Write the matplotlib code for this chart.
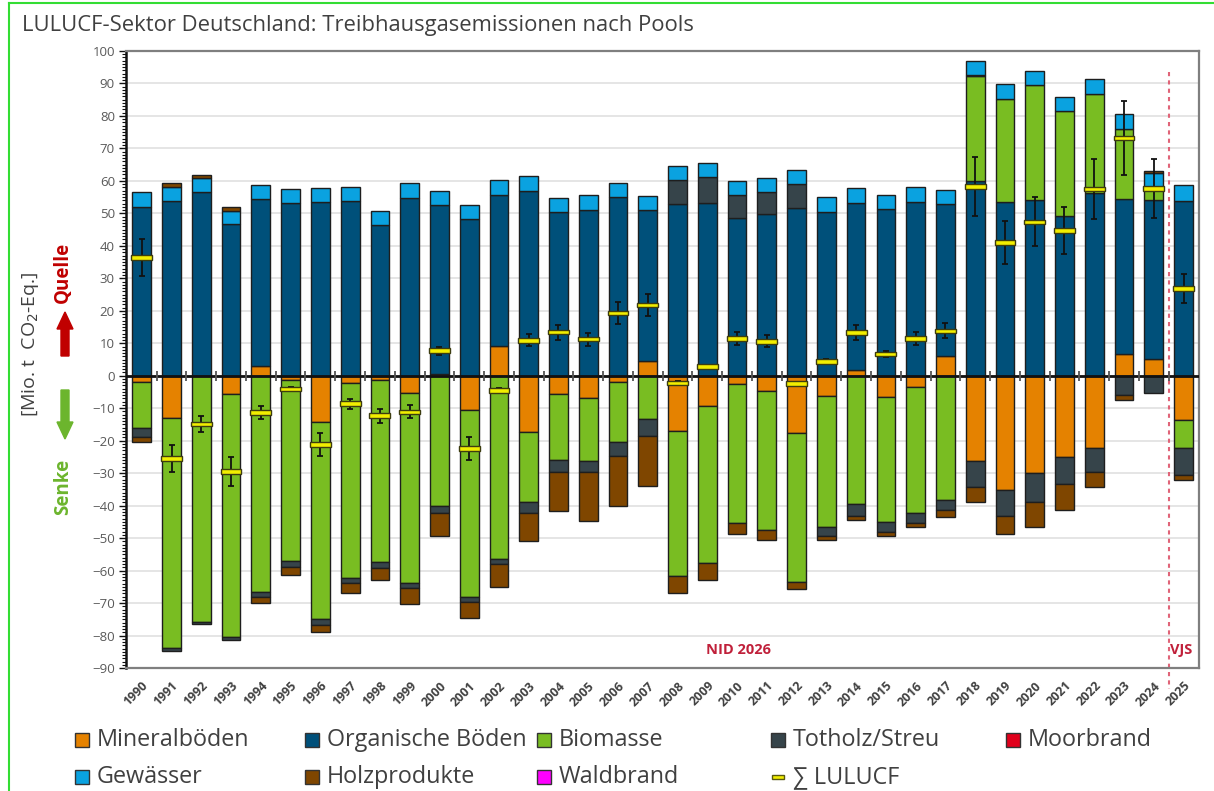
import numpy as np
import matplotlib
matplotlib.use('Agg')
import matplotlib.pyplot as plt
from matplotlib.patches import Rectangle, FancyArrow
from matplotlib.lines import Line2D
from matplotlib.ticker import MultipleLocator

plt.rcParams['font.family'] = ['Open Sans', 'DejaVu Sans']

years = [str(y) for y in range(1990, 2026)]

mineral = [-1.8, -13.1, 0.0, -5.6, 3.1, -1.3, -14.4, -2.2, -1.3, -5.2,
           0.5, -10.4, 9.2, -17.2, -5.6, -7.0, -1.8, 4.4, -16.9, -9.3,
           -2.4, -4.7, -17.5, -6.3, 1.8, -6.5, -3.6, 6.1, -26.3, -35.2,
           -29.8, -25.1, -22.1, 6.7, 5.2, -13.6]
organisch = [52.0, 53.9, 56.6, 46.7, 51.3, 53.1, 53.4, 53.9, 46.4, 54.6,
             52.1, 48.2, 46.6, 57.0, 50.3, 51.0, 54.9, 46.5, 52.8, 53.3,
             48.5, 49.7, 51.5, 50.5, 51.5, 51.3, 53.4, 46.8, 60.0, 53.6,
             54.1, 49.3, 56.4, 47.6, 48.9, 53.8]
biomasse = [-14.4, -70.8, -75.7, -74.9, -66.5, -55.9, -60.5, -60.2, -56.2, -58.5,
            -40.0, -57.6, -56.4, -21.8, -20.4, -19.3, -18.7, -13.4, -44.9, -48.4,
            -43.0, -42.8, -45.9, -40.2, -39.5, -38.4, -38.8, -38.3, 32.2, 31.5,
            35.3, 32.2, 30.5, 21.8, 4.1, -8.7]
totholz = [-2.8, -1.0, -0.8, -0.8, -1.5, -1.8, -1.8, -1.5, -1.8, -1.6,
           -2.2, -1.7, -1.5, -3.2, -3.5, -3.4, -4.2, -5.2, 7.4, 8.0,
           7.1, 6.8, 7.5, -3.0, -3.6, -3.1, -3.0, -3.0, -8.1, -7.9,
           -9.0, -8.2, -7.6, -5.9, -5.2, -8.3]
moorbrand = [0.0] * 28 + [0.5] + [0.0] * 7
gewaesser = [4.5, 4.3, 4.2, 4.1, 4.3, 4.3, 4.4, 4.3, 4.4, 4.6,
             4.3, 4.4, 4.4, 4.5, 4.5, 4.6, 4.3, 4.5, 4.4, 4.3,
             4.4, 4.5, 4.5, 4.6, 4.4, 4.5, 4.6, 4.3, 4.2, 4.6,
             4.5, 4.4, 4.4, 4.4, 4.1, 4.9]
holzprodukte = [-1.3, 1.2, 1.0, 1.2, -2.1, -2.5, -2.3, -3.1, -3.7, -5.1,
                -7.1, -5.0, -7.2, -8.7, -12.1, -14.9, -15.4, -15.3, -5.2, -5.2,
                -3.4, -3.1, -2.3, -1.1, -1.3, -1.2, -1.1, -2.3, -4.5, -5.6,
                -7.9, -8.0, -4.5, -1.6, 0.7, -1.5]
waldbrand = [0.0] * 36
lulucf = [36.4, -25.5, -14.9, -29.5, -11.3, -4.1, -21.1, -8.6, -12.3, -11.1,
          7.7, -22.4, -4.6, 10.9, 13.4, 11.3, 19.3, 21.8, -2.2, 2.9,
          11.4, 10.6, -2.4, 4.4, 13.3, 6.7, 11.4, 13.8, 58.2, 41.1,
          47.4, 44.8, 57.5, 73.2, 57.7, 26.9]
lulucf_err = [5.8, 4.1, 2.4, 4.6, 2.0, 0.5, 3.5, 1.5, 2.2, 2.0,
              1.3, 3.6, 0.8, 1.8, 2.3, 2.0, 3.3, 3.5, 0.5, 0.5,
              2.0, 1.9, 0.5, 0.7, 2.2, 0.9, 2.0, 2.3, 9.1, 6.6,
              7.6, 7.2, 9.2, 11.4, 9.0, 4.4]

series_names = ["Mineralböden", "Organische Böden", "Biomasse", "Totholz/Streu",
                "Moorbrand", "Gewässer", "Holzprodukte", "Waldbrand"]
series_values = [mineral, organisch, biomasse, totholz, moorbrand, gewaesser,
                 holzprodukte, waldbrand]
series_colors = ['#E58200', '#00507A', '#79BD22', '#36444A', '#E0001B',
                 '#0AA2E0', '#7F4600', '#FF00FF']
lulucf_color = '#F2EE00'

W, H = 1214, 791
def fx(px):
    return px / W
def fy(py):
    return 1 - py / H

fig = plt.figure(figsize=(W / 100, H / 100), dpi=100)
ax = fig.add_axes([fx(126), fy(668), (1199 - 126) / W, (668 - 51) / H])

n = len(years)
x = np.arange(n)
pos_base = np.zeros(n)
neg_base = np.zeros(n)
bw = 0.63
for vals, col in zip(series_values, series_colors):
    v = np.array(vals, float)
    p = np.where(v > 0, v, 0.0)
    q = np.where(v < 0, v, 0.0)
    mp = p > 0
    mq = q < 0
    if mp.any():
        ax.bar(x[mp], p[mp], bottom=pos_base[mp], width=bw, color=col,
               edgecolor='#1e1e1e', linewidth=1.0, zorder=3)
    if mq.any():
        ax.bar(x[mq], q[mq], bottom=neg_base[mq], width=bw, color=col,
               edgecolor='#1e1e1e', linewidth=1.0, zorder=3)
    pos_base += p
    neg_base += q

# zero line with category separators
ax.axhline(0, color='#111111', lw=2.0, zorder=3.5)
ax.plot(x[:-1] + 0.5, np.zeros(n - 1), ls='none', marker='|', ms=7, mew=1.3,
        color='#555555', zorder=3.6)

# LULUCF sum with uncertainty
lv = np.array(lulucf)
ax.errorbar(x, lv, yerr=lulucf_err, fmt='none', ecolor='#111111', elinewidth=1.3,
            capsize=2.0, capthick=1.3, zorder=4)
ax.bar(x, 1.4, bottom=lv - 0.7, width=0.7, color=lulucf_color,
       edgecolor='#3d3d10', linewidth=1.0, zorder=5)

ax.set_xlim(-0.53, 35.52)
ax.set_ylim(-90, 100)
ax.set_yticks(np.arange(-90, 101, 10))
ax.yaxis.set_minor_locator(MultipleLocator(1))
ax.tick_params(axis='y', which='major', length=5, width=1.0, color='#111111',
               labelsize=9.5, labelcolor='#595959', pad=3)
ax.tick_params(axis='y', which='minor', length=3, width=0.8, color='#111111')
ax.set_xticks(x)
ax.set_xticklabels(years, rotation=45, ha='right', va='top', rotation_mode='anchor',
                   fontsize=9, fontweight='bold', color='#404040')
ax.tick_params(axis='x', length=0, pad=8)
ax.yaxis.grid(True, color='#e3e3e3', linewidth=1.3)
ax.set_axisbelow(True)
for s in ['top', 'right', 'bottom']:
    ax.spines[s].set_color('#7f7f7f')
    ax.spines[s].set_linewidth(1.6)
ax.spines['left'].set_color('#111111')
ax.spines['left'].set_linewidth(1.8)

# separator between inventory and projection
ax.plot([34.5, 34.5], [93.6, -96.5], ls=(0, (2, 2)), color='#E06478', lw=1.5,
        clip_on=False, zorder=2)
ax.text(20.05, -84.6, 'NID 2026', color='#C0203A', fontweight='bold', fontsize=10.5,
        ha='center', va='center')
ax.text(34.56, -84.6, 'VJS', color='#C0203A', fontweight='bold', fontsize=10.5,
        ha='left', va='center')

# title
fig.text(fx(22), fy(25), 'LULUCF-Sektor Deutschland: Treibhausgasemissionen nach Pools',
         fontsize=15.8, color='#404040', va='center', ha='left')

# y-axis labels and arrows
fig.text(fx(31), fy(344), '[Mio. t  CO$_2$-Eq.]', rotation=90, fontsize=14,
         color='#404040', ha='center', va='center')
fig.text(fx(63), fy(272), 'Quelle', rotation=90, fontsize=13.5, fontweight='bold',
         color='#C00000', ha='center', va='center')
fig.text(fx(63), fy(487), 'Senke', rotation=90, fontsize=13.5, fontweight='bold',
         color='#6CB52D', ha='center', va='center')
fig.add_artist(FancyArrow(fx(65), fy(356), 0, fy(312) - fy(356), width=8 / W,
                          head_width=16 / W, head_length=17 / H,
                          length_includes_head=True, color='#C00000',
                          transform=fig.transFigure))
fig.add_artist(FancyArrow(fx(65), fy(390), 0, fy(439) - fy(390), width=8 / W,
                          head_width=16 / W, head_length=17 / H,
                          length_includes_head=True, color='#6CB52D',
                          transform=fig.transFigure))

# legend (manual layout)
col_cx = [82, 312, 544, 778, 1013]
row_y = [740, 777]
entries = list(zip(series_names, series_colors)) + [('∑ LULUCF', None)]
for k, (name, col) in enumerate(entries):
    r, c = divmod(k, 5)
    cx, cy = col_cx[c], row_y[r]
    if col is None:
        fig.add_artist(Rectangle((fx(cx - 6), fy(cy + 2)), 12 / W, 4 / H,
                                 facecolor=lulucf_color, edgecolor='#5a5a10', lw=1,
                                 transform=fig.transFigure))
    else:
        fig.add_artist(Rectangle((fx(cx - 7), fy(cy + 7)), 14 / W, 14 / H,
                                 facecolor=col, edgecolor='#333333', lw=1,
                                 transform=fig.transFigure))
    fig.text(fx(cx + 15), fy(cy), name, fontsize=16.8, color='#404040',
             va='center', ha='left')

# screenshot frame
fig.add_artist(Line2D([fx(9), 1], [fy(3), fy(3)], color='#33dd33', lw=1.5,
                      transform=fig.transFigure))
fig.add_artist(Line2D([fx(9), fx(9)], [0, fy(3)], color='#33dd33', lw=1.5,
                      transform=fig.transFigure))

fig.savefig('out.png', dpi=100)
